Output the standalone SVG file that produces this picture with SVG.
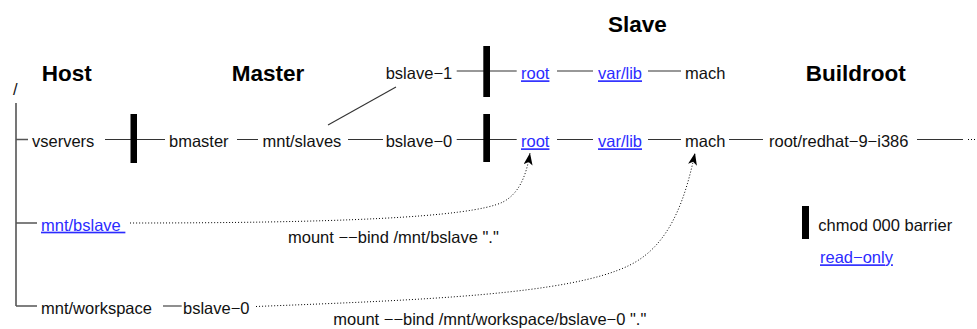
<svg xmlns="http://www.w3.org/2000/svg" width="977" height="329" viewBox="0 0 977 329">
  <style>
    text { font-family: "Liberation Sans", Arial, sans-serif; font-size: 16.5px; fill: #111; }
    .title { font-size: 22.5px; font-weight: bold; fill: #000; }
    .link { fill: #2b2bff; text-decoration: underline; }
    .wire { stroke: #333; stroke-width: 1.1; fill: none; }
    .tree { stroke: #555; stroke-width: 1.6; fill: none; }
    .bind { stroke: #000; stroke-width: 1; stroke-dasharray: 1 2; fill: none; }
    .barrier { fill: #000; }
  </style>
  <defs>
    <marker id="head" viewBox="0 0 12 9" refX="12" refY="4.5" markerWidth="12" markerHeight="9" markerUnits="userSpaceOnUse" orient="auto">
      <path d="M0,0 L12,4.5 L0,9 L3,4.5 z" fill="#000"/>
    </marker>
  </defs>

  <!-- column headings -->
  <g id="headings">
    <text class="title" x="41.7" y="80.5">Host</text>
    <text class="title" x="231.7" y="80.5">Master</text>
    <text class="title" x="608" y="31.7">Slave</text>
    <text class="title" x="805.7" y="81">Buildroot</text>
  </g>

  <!-- connectors -->
  <g id="connectors">
    <!-- host tree -->
    <path class="tree" d="M16,103 V306 M16,139.5 H28 M16,223 H37 M16,306 H37"/>
    <!-- row 1 -->
    <path class="wire" d="M456.7,71 H516.7 M557,71 H593 M648,71 H681"/>
    <!-- row 2 -->
    <path class="wire" d="M105,139.5 H165 M237,139.5 H258 M348,139.5 H383 M456.7,139.5 H516.7 M557,139.5 H593 M648,139.5 H681 M729,139.5 H763 M917,139.5 H963"/>
    <path class="bind" d="M968,139.5 H977" stroke-dasharray="1.5 3"/>
    <!-- mnt/slaves to bslave-1 -->
    <path class="wire" d="M396,87 L328,125"/>
    <!-- workspace to bslave-0 -->
    <path class="wire" d="M163,306 H181.7"/>
    <!-- bind mounts -->
    <path class="bind" d="M130,223 C330,223 470,218 503,202 C518,194 526,178 530,153" marker-end="url(#head)"/>
    <path class="bind" d="M256,306.5 C420,300 570,295 630,265 C670,245 685,200 695,153" marker-end="url(#head)"/>
    <text x="288" y="242.7">mount −−bind /mnt/bslave "."</text>
    <text x="333.3" y="325.3">mount −−bind /mnt/workspace/bslave−0 "."</text>
  </g>

  <!-- barriers -->
  <g id="barrier-host"><rect class="barrier" x="130.5" y="114" width="6.5" height="49"/></g>
  <g id="barrier-slave1"><rect class="barrier" x="483.3" y="46" width="6.7" height="51"/></g>
  <g id="barrier-slave0"><rect class="barrier" x="483.3" y="114" width="6.7" height="48"/></g>

  <!-- host nodes -->
  <g id="n-root"><text x="13" y="95">/</text></g>
  <g id="n-vservers"><text x="32" y="147.3">vservers</text></g>
  <g id="n-mnt-bslave"><text class="link" x="41" y="230.7" xml:space="preserve">mnt/bslave </text></g>
  <g id="n-mnt-workspace"><text x="41" y="313.5">mnt/workspace</text></g>
  <g id="n-ws-bslave0"><text x="183" y="313.5">bslave−0</text></g>

  <!-- master nodes -->
  <g id="n-bmaster"><text x="169" y="147.3">bmaster</text></g>
  <g id="n-mnt-slaves"><text x="262.5" y="147.3">mnt/slaves</text></g>
  <g id="n-bslave1"><text x="385.7" y="79.3">bslave−1</text></g>
  <g id="n-bslave0"><text x="385.7" y="147.3">bslave−0</text></g>

  <!-- slave nodes -->
  <g id="n-root1"><text class="link" x="521" y="79.3">root</text></g>
  <g id="n-varlib1"><text class="link" x="598" y="79.3">var/lib</text></g>
  <g id="n-mach1"><text x="685" y="79.3">mach</text></g>
  <g id="n-root0"><text class="link" x="521" y="147.3">root</text></g>
  <g id="n-varlib0"><text class="link" x="598" y="147.3">var/lib</text></g>
  <g id="n-mach0"><text x="685" y="147.3">mach</text></g>

  <!-- buildroot node -->
  <g id="n-redhat"><text x="769" y="147.3">root/redhat−9−i386</text></g>

  <!-- legend -->
  <g id="legend">
    <rect class="barrier" x="802" y="206" width="7" height="33"/>
    <text x="818.3" y="231">chmod 000 barrier</text>
    <text class="link" x="820" y="263.3">read−only</text>
  </g>
</svg>
